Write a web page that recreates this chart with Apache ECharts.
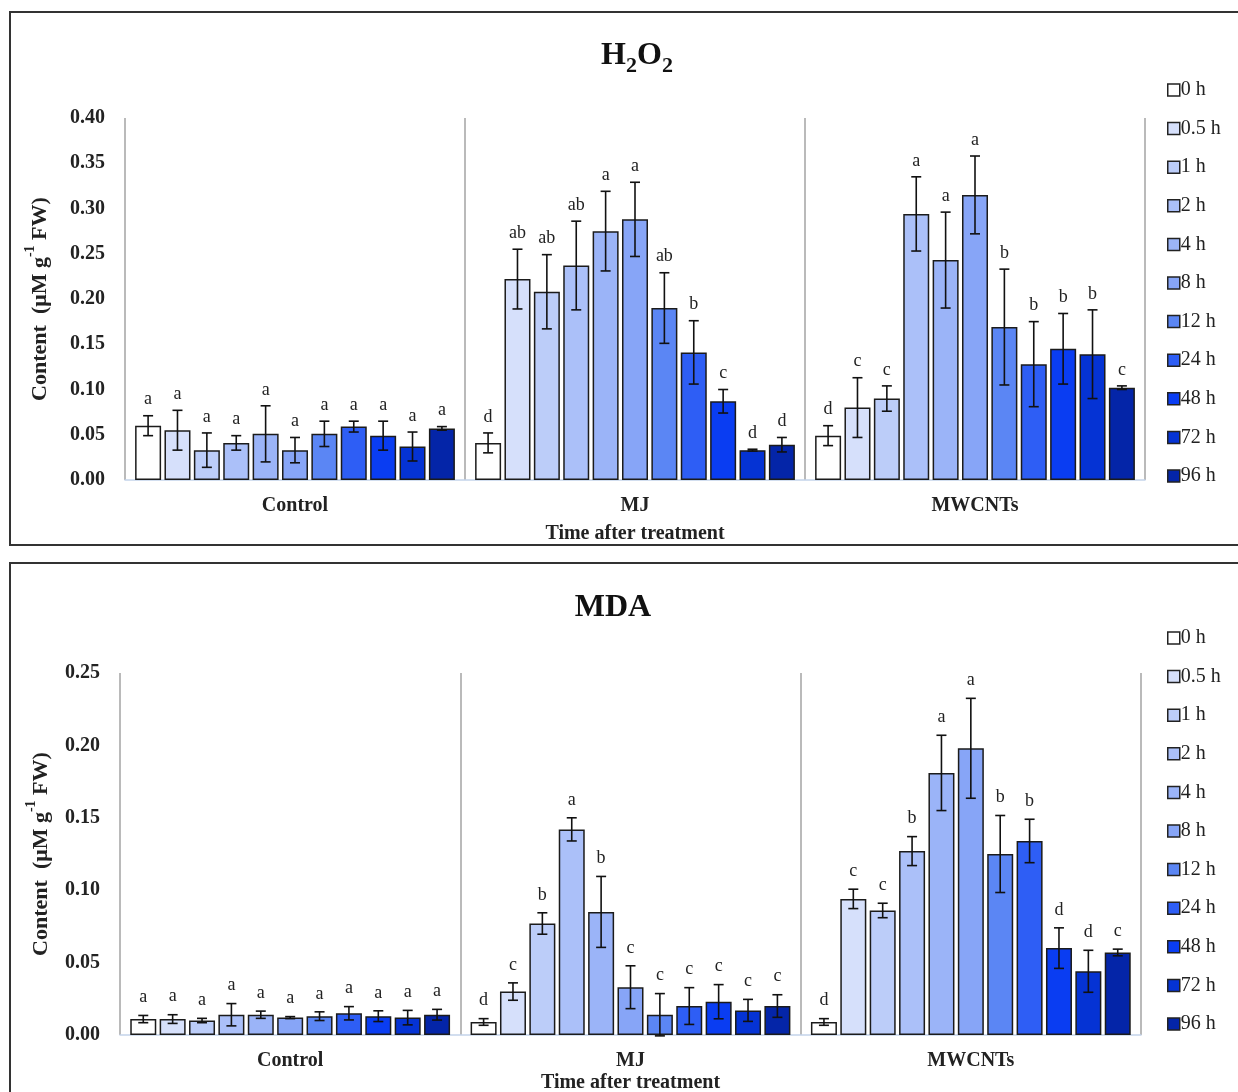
<!DOCTYPE html>
<html>
<head>
<meta charset="utf-8">
<script src="https://cdn.jsdelivr.net/npm/echarts@6/dist/echarts.min.js"></script>
<style>
html,body{margin:0;padding:0;background:#fff;}
#chart{width:1238px;height:1092px;}
</style>
</head>
<body>
<div id="chart"></div>
<script>
// ---------- DATA ----------
const timeLabels = ['0 h','0.5 h','1 h','2 h','4 h','8 h','12 h','24 h','48 h','72 h','96 h'];
const groups = ['Control','MJ','MWCNTs'];
const yTicksH2O2 = [0, 0.40, 0.05];   // min, max, step
const yTicksMDA = [0, 0.25, 0.05];

// H2O2 content (mean) and error
const h2o2Control = [0.060, 0.055, 0.033, 0.041, 0.051, 0.033, 0.051, 0.059, 0.049, 0.037, 0.057];
const h2o2ControlErr = [0.011, 0.022, 0.019, 0.008, 0.031, 0.014, 0.014, 0.006, 0.016, 0.016, 0.002];
const h2o2MJ = [0.041, 0.222, 0.208, 0.237, 0.275, 0.288, 0.190, 0.141, 0.087, 0.033, 0.039];
const h2o2MJErr = [0.011, 0.033, 0.041, 0.049, 0.044, 0.041, 0.039, 0.035, 0.013, 0.001, 0.008];
const h2o2MW = [0.049, 0.080, 0.090, 0.294, 0.243, 0.315, 0.169, 0.128, 0.145, 0.139, 0.102];
const h2o2MWErr = [0.011, 0.033, 0.014, 0.041, 0.053, 0.043, 0.064, 0.047, 0.039, 0.049, 0.002];

const h2o2ControlLetters = ['a','a','a','a','a','a','a','a','a','a','a'];
const h2o2MJLetters = ['d','ab','ab','ab','a','a','ab','b','c','d','d'];
const h2o2MWLetters = ['d','c','c','a','a','a','b','b','b','b','c'];

// MDA content (mean) and error
const mdaControl = [0.011, 0.011, 0.010, 0.014, 0.014, 0.012, 0.013, 0.015, 0.013, 0.012, 0.014];
const mdaControlErr = [0.0025, 0.003, 0.0015, 0.0077, 0.0025, 0.0007, 0.003, 0.0046, 0.0037, 0.005, 0.0037];
const mdaMJ = [0.009, 0.030, 0.077, 0.142, 0.085, 0.033, 0.014, 0.020, 0.023, 0.017, 0.020];
const mdaMJErr = [0.0023, 0.006, 0.0074, 0.008, 0.0245, 0.0148, 0.0146, 0.0127, 0.0118, 0.0076, 0.0078];
const mdaMW = [0.009, 0.094, 0.086, 0.127, 0.181, 0.198, 0.125, 0.134, 0.060, 0.044, 0.057];
const mdaMWErr = [0.0023, 0.0067, 0.005, 0.010, 0.026, 0.0345, 0.0266, 0.015, 0.014, 0.0145, 0.0023];

const mdaControlLetters = ['a','a','a','a','a','a','a','a','a','a','a'];
const mdaMJLetters = ['d','c','b','a','b','c','c','c','c','c','c'];
const mdaMWLetters = ['d','c','c','b','a','a','b','b','d','d','c'];

// ---------- STYLE ----------
const colors = ['#ffffff','#d6e0fb','#bccdf9','#abc0f9','#9bb4f8','#87a5f7','#5b86f4','#2e5ef5','#0a3df2','#0533d4','#0425a8'];
const SERIF = '"Liberation Serif","Times New Roman",serif';
const BAR_W = 26;
const BAR_GAP = 0.13;

const charts = [
  { vals: [h2o2Control, h2o2MJ, h2o2MW], errs: [h2o2ControlErr, h2o2MJErr, h2o2MWErr],
    letters: [h2o2ControlLetters, h2o2MJLetters, h2o2MWLetters], ticks: yTicksH2O2, letterGap: 7 },
  { vals: [mdaControl, mdaMJ, mdaMW], errs: [mdaControlErr, mdaMJErr, mdaMWErr],
    letters: [mdaControlLetters, mdaMJLetters, mdaMWLetters], ticks: yTicksMDA, letterGap: 9 }
];

const series = [];
charts.forEach((c, g) => {
  timeLabels.forEach((t, i) => {
    series.push({
      type: 'bar', name: t, xAxisIndex: g, yAxisIndex: g,
      barWidth: BAR_W, barGap: (BAR_GAP * 100) + '%',
      data: groups.map((_, k) => c.vals[k][i]),
      itemStyle: { color: colors[i], borderColor: '#1b1b1b', borderWidth: 1.5 },
      emphasis: { disabled: true }, animation: false
    });
  });
  timeLabels.forEach((t, i) => {
    series.push({
      type: 'custom', name: 'err ' + t, xAxisIndex: g, yAxisIndex: g, z: 10, silent: true,
      clip: false, animation: false,
      data: groups.map((_, k) => [k, c.vals[k][i], c.errs[k][i]]),
      renderItem: function (params, api) {
        const k = api.value(0), v = api.value(1), e = api.value(2);
        const hi = api.coord([k, v + e]);
        const lo = api.coord([k, v - e]);
        const x = hi[0] + (i - (timeLabels.length - 1) / 2) * BAR_W * (1 + BAR_GAP);
        const cap = 5;
        const ls = { stroke: '#111', lineWidth: 1.6 };
        return {
          type: 'group',
          children: [
            { type: 'line', shape: { x1: x, y1: hi[1], x2: x, y2: lo[1] }, style: ls },
            { type: 'line', shape: { x1: x - cap, y1: hi[1], x2: x + cap, y2: hi[1] }, style: ls },
            { type: 'line', shape: { x1: x - cap, y1: lo[1], x2: x + cap, y2: lo[1] }, style: ls },
            { type: 'text', style: { text: c.letters[k][i], x: x, y: hi[1] - c.letterGap,
                align: 'center', verticalAlign: 'bottom', fill: '#222',
                font: '18px ' + SERIF } }
          ]
        };
      }
    });
  });
});

const axisLabelStyle = { fontFamily: SERIF, fontWeight: 'bold', fontSize: 20, color: '#222' };
const yName = '{b|Content  (μM g}{s|-1}{b| FW)}';
const yNameStyle = {
  rich: {
    b: { fontFamily: SERIF, fontWeight: 'bold', fontSize: 22, lineHeight: 28, verticalAlign: 'bottom', color: '#222' },
    s: { fontFamily: SERIF, fontWeight: 'bold', fontSize: 14, lineHeight: 15, verticalAlign: 'top', color: '#222' }
  }
};

function xAxis(g, nameGap) {
  return {
    type: 'category', gridIndex: g, data: groups,
    axisTick: { show: false },
    axisLine: { lineStyle: { color: '#c3d3ea', width: 1.5 } },
    axisLabel: Object.assign({ margin: 16 }, axisLabelStyle),
    splitLine: { show: true, lineStyle: { color: '#a3a3a3', width: 1.5 } },
    name: 'Time after treatment', nameLocation: 'middle', nameGap: nameGap,
    nameTextStyle: { fontFamily: SERIF, fontWeight: 'bold', fontSize: 20, color: '#222' }
  };
}
function yAxis(g, t, nameGap) {
  return {
    type: 'value', gridIndex: g, min: t[0], max: t[1], interval: t[2],
    axisLine: { show: false }, axisTick: { show: false }, splitLine: { show: false },
    axisLabel: Object.assign({ margin: 20, formatter: v => v.toFixed(2) }, axisLabelStyle),
    name: yName, nameLocation: 'middle', nameRotate: 90, nameGap: nameGap, nameTextStyle: yNameStyle
  };
}
function legend(top) {
  return {
    data: timeLabels, orient: 'vertical', left: 1162, top: top,
    itemWidth: 12, itemHeight: 12, itemGap: 18.6, icon: 'rect',
    itemStyle: { borderColor: '#222', borderWidth: 1.5 },
    textStyle: { fontFamily: SERIF, fontSize: 20, color: '#222', padding: [0, 0, 0, -4] },
    selectedMode: false
  };
}

const option = {
  animation: false,
  backgroundColor: '#fff',
  grid: [
    { left: 125, top: 118, width: 1020, height: 362, containLabel: false, outerBoundsMode: 'none' },
    { left: 120, top: 673, width: 1021, height: 362, containLabel: false, outerBoundsMode: 'none' }
  ],
  xAxis: [xAxis(0, 44), xAxis(1, 38)],
  yAxis: [yAxis(0, yTicksH2O2, 74), yAxis(1, yTicksMDA, 68)],
  legend: [legend(75), legend(623)],
  graphic: [
    { type: 'rect', shape: { x: 10, y: 12, width: 1300, height: 533 }, style: { fill: 'none', stroke: '#333', lineWidth: 2 }, silent: true },
    { type: 'rect', shape: { x: 10, y: 563, width: 1300, height: 600 }, style: { fill: 'none', stroke: '#333', lineWidth: 2 }, silent: true },
    { type: 'text', x: 637, y: 40, silent: true,
      style: { text: '{h|H}{s|2}{h|O}{s|2}', align: 'center', verticalAlign: 'top',
        rich: {
          h: { fontFamily: SERIF, fontWeight: 'bold', fontSize: 32, lineHeight: 32, verticalAlign: 'top', fill: '#111' },
          s: { fontFamily: SERIF, fontWeight: 'bold', fontSize: 22, lineHeight: 52, verticalAlign: 'middle', fill: '#111' }
        } } },
    { type: 'text', x: 613, y: 608, silent: true,
      style: { text: 'MDA', align: 'center', verticalAlign: 'middle', fill: '#111',
        font: 'bold 32px ' + SERIF } }
  ],
  series: series
};

const chart = echarts.init(document.getElementById('chart'), null, { renderer: 'canvas' });
chart.setOption(option);
</script>
</body>
</html>
